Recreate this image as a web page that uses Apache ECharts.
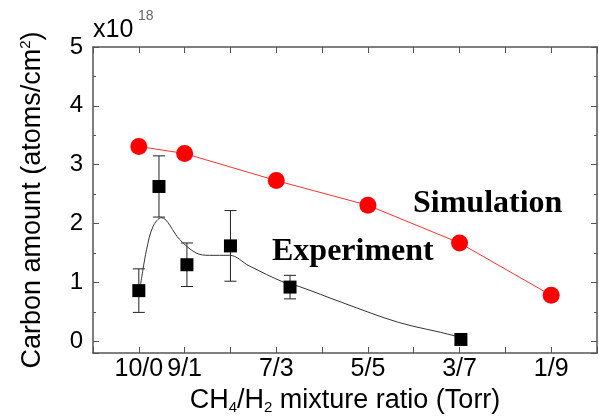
<!DOCTYPE html>
<html>
<head>
<meta charset="utf-8">
<script src="https://cdn.jsdelivr.net/npm/echarts@6/dist/echarts.min.js"></script>
<style>
  html, body { margin: 0; padding: 0; background: #fff; }
  #chart { width: 599px; height: 416px; }
</style>
</head>
<body>
<div id="chart"></div>
<script>
// x = H2 part of the CH4/H2 ratio (0 -> 10/0, 9 -> 1/9)
const ratioLabels = { 0: '10/0', 1: '9/1', 3: '7/3', 5: '5/5', 7: '3/7', 9: '1/9' };

const simX = [0, 1, 3, 5, 7, 9];
const simY = [3.31, 3.19, 2.73, 2.31, 1.67, 0.78];

const expX = [0, 0.44, 1.05, 2, 3.3, 7.03];
const expY = [0.86, 2.63, 1.30, 1.62, 0.92, 0.03];
const expErr = [0.37, 0.52, 0.37, 0.6, 0.2, 0];

// guide-to-the-eye curve through experiment
const fitX = [0.04, 0.17, 0.31, 0.49, 0.89, 1.25, 1.54, 1.98, 2.41, 3.17, 3.5, 4.43, 5.67, 6.9, 7.0];
const fitY = [0.97, 1.56, 1.95, 2.1, 1.73, 1.5, 1.46, 1.46, 1.28, 1.0, 0.93, 0.66, 0.32, 0.09, 0.03];

const sans = 'Liberation Sans';
const serif = 'Liberation Serif';
const axisCol = '#555';

let chart = echarts.init(document.getElementById('chart'));

const xBase = {
    type: 'value', min: -1, max: 10, interval: 1,
    axisLine: { onZero: false, lineStyle: { color: axisCol, width: 1.5 } },
    axisTick: { inside: true, length: 6, lineStyle: { color: axisCol } },
    splitLine: { show: false }
};
const yBase = {
    type: 'value', min: -0.2, max: 5,
    axisLine: { show: true, onZero: false, lineStyle: { color: axisCol, width: 1.5 } },
    axisTick: { inside: true, length: 6, lineStyle: { color: axisCol } },
    minorTick: { show: true, splitNumber: 2, length: 3, lineStyle: { color: axisCol } },
    splitLine: { show: false }
};

chart.setOption({
    animation: false,
    grid: { left: 93, right: 2, top: 47, bottom: 63, containLabel: false, outerBoundsMode: 'none' },
    xAxis: [
        Object.assign({}, xBase, {
            position: 'bottom',
            name: 'CH{sub|4}/H{sub|2} mixture ratio (Torr)',
            nameLocation: 'middle',
            nameGap: 33,
            nameTextStyle: {
                fontFamily: sans, fontSize: 27, color: '#000',
                rich: { sub: { fontFamily: sans, fontSize: 15, verticalAlign: 'bottom', padding: [14, 0, 0, 0] } }
            },
            axisLabel: {
                fontFamily: sans, fontSize: 25, color: '#000', margin: 4,
                formatter: v => ratioLabels[v] || ''
            }
        }),
        Object.assign({}, xBase, { position: 'top', axisLabel: { show: false } })
    ],
    yAxis: [
        Object.assign({}, yBase, {
            position: 'left',
            name: 'Carbon amount (atoms/cm{sup|2})',
            nameLocation: 'middle',
            nameGap: 46,
            nameRotate: 90,
            nameTextStyle: {
                fontFamily: sans, fontSize: 27, color: '#000',
                rich: { sup: { fontFamily: sans, fontSize: 15, verticalAlign: 'top', padding: [0, 0, 14, 0] } }
            },
            axisLabel: {
                fontFamily: sans, fontSize: 24, color: '#000', margin: 10,
                formatter: v => Number.isInteger(v) ? String(v) : ''
            }
        }),
        Object.assign({}, yBase, { position: 'right', axisLabel: { show: false } })
    ],
    graphic: [
        { type: 'text', left: 93, top: 18, style: { text: 'x10', font: '25px "Liberation Sans"', fill: '#000' } },
        { type: 'text', left: 138, top: 9, style: { text: '18', font: '14px "Liberation Sans"', fill: '#666' } },
        { type: 'text', left: 413, top: 188, style: { text: 'Simulation', font: 'bold 32px "Liberation Serif"', fill: '#000' } },
        { type: 'text', left: 272, top: 236, style: { text: 'Experiment', font: 'bold 32px "Liberation Serif"', fill: '#000' } }
    ],
    series: [
        {
            name: 'Simulation',
            type: 'line',
            data: simX.map((x, i) => [x, simY[i]]),
            symbol: 'circle',
            symbolSize: 17,
            lineStyle: { color: '#ff3030', width: 1 },
            itemStyle: { color: '#ff0000', opacity: 1 },
            z: 3
        },
        {
            name: 'fit',
            type: 'line',
            data: fitX.map((x, i) => [x, fitY[i]]),
            smooth: 0.35,
            symbol: 'none',
            lineStyle: { color: '#333', width: 1 },
            z: 2
        },
        {
            name: 'error',
            type: 'custom',
            data: expX.map((x, i) => [x, expY[i] - expErr[i], expY[i] + expErr[i]]),
            renderItem: (params, api) => {
                const lo = api.coord([api.value(0), api.value(1)]);
                const hi = api.coord([api.value(0), api.value(2)]);
                const w = 6;
                const st = { stroke: '#222', lineWidth: 1 };
                if (hi[1] === lo[1]) return { type: 'group', children: [] };
                return {
                    type: 'group',
                    children: [
                        { type: 'line', shape: { x1: lo[0], y1: lo[1], x2: hi[0], y2: hi[1] }, style: st },
                        { type: 'line', shape: { x1: lo[0] - w, y1: lo[1], x2: lo[0] + w, y2: lo[1] }, style: st },
                        { type: 'line', shape: { x1: hi[0] - w, y1: hi[1], x2: hi[0] + w, y2: hi[1] }, style: st }
                    ]
                };
            },
            z: 2
        },
        {
            name: 'Experiment',
            type: 'scatter',
            data: expX.map((x, i) => [x, expY[i]]),
            symbol: 'rect',
            symbolSize: 13,
            itemStyle: { color: '#000', opacity: 1 },
            z: 4
        }
    ]
});
</script>
</body>
</html>
